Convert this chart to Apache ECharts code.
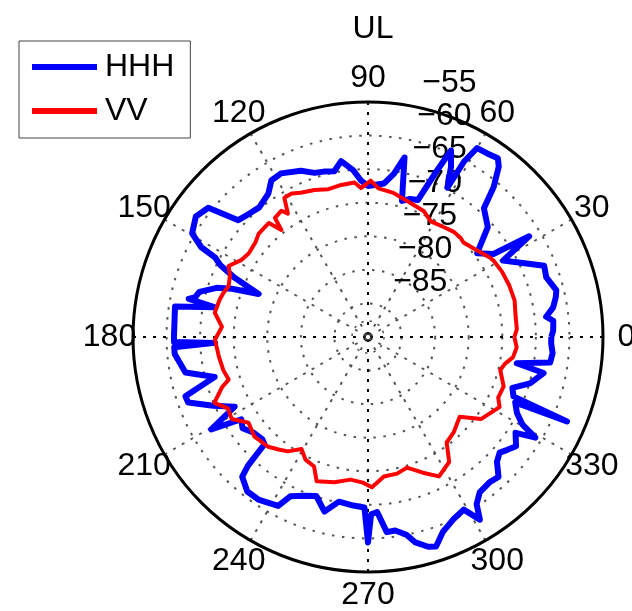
<!DOCTYPE html>
<html>
<head>
<meta charset="utf-8">
<script src="https://cdn.jsdelivr.net/npm/echarts@6/dist/echarts.min.js"></script>
<style>
  html, body { margin: 0; padding: 0; background: #fff; }
  #chart { width: 632px; height: 611px; }
</style>
</head>
<body>
<div id="chart"></div>
<script>
// Azimuth (degrees) and received level (dB) for the HHH trace
const hhhAngle = [0, 2, 5, 6.5, 9, 12, 14, 18.5, 22, 26.7, 29.5, 32, 33.5, 37.5, 42.5, 48, 50, 52.5, 54, 57,
  60, 61.3, 62, 64, 66, 67.5, 70, 73, 76, 78.5, 81, 84, 86, 90, 92.5, 95, 98.7, 101.5, 105, 108,
  112, 118, 121.7, 124.8, 130, 134, 138, 141, 145, 149.5, 151.7, 152.5, 154, 156, 158.5, 160.5, 162, 165, 167, 168,
  169, 171, 176, 180, 181.5, 182.2, 183, 185, 191, 194.6, 198, 200, 204, 207.6, 210.5, 213, 216, 220, 224, 226,
  227, 228, 232, 236, 242, 244, 248, 252, 256, 260, 265, 268.8, 270, 271, 273, 275.5, 278, 281, 283, 286,
  288, 291, 295, 299, 301.5, 303, 305.7, 310, 313, 316, 318.7, 321, 323.6, 327, 329, 330.5, 333, 336, 337, 337.8,
  340.6, 344, 348.4, 350, 352, 355, 358, 360];
const hhhDb = [-62.7, -62.4, -62.3, -63.3, -62.1, -61.4, -61.1, -62.0, -61.7, -65.2, -66.9, -61.7, -67.6, -69.5, -65.8, -64.2, -60.9, -58.0, -57.1, -57.4,
  -57.5, -60.2, -64.8, -61.8, -59.6, -63.2, -68.3, -68.5, -69.1, -62.7, -65.4, -67.0, -67.2, -67.5, -66.7, -65.1, -63.5, -64.8, -64.5, -64.3,
  -63.3, -62.4, -62.6, -64.0, -64.8, -64.5, -64.0, -59.4, -58.7, -59.6, -61.8, -64.3, -65.5, -68.2, -72.5, -68.5, -66.3, -64.0, -63.6, -62.7,
  -66.7, -60.9, -61.1, -61.1, -61.1, -67.2, -61.1, -61.1, -62.3, -66.4, -61.4, -61.5, -64.8, -67.6, -62.9, -67.5, -66.9, -67.8, -68.1, -67.8,
  -63.8, -62.0, -60.8, -60.8, -61.5, -63.6, -64.5, -65.1, -63.2, -65.1, -64.8, -64.6, -59.4, -63.6, -63.9, -60.8, -60.9, -60.0, -58.6, -57.5,
  -57.2, -58.9, -60.0, -60.6, -58.1, -60.3, -61.5, -61.8, -61.5, -63.3, -63.9, -63.3, -62.6, -63.8, -60.9, -63.6, -65.1, -66.0, -57.8, -66.6,
  -67.2, -64.9, -63.3, -67.5, -62.6, -62.4, -62.7, -62.7];

// Azimuth (degrees) and received level (dB) for the VV trace
const vvAngle = [0, 3, 8, 14, 20, 26, 31, 33, 38, 44.7, 47, 51, 55, 61.5, 66, 72, 77, 80, 86, 89,
  92.7, 95, 100, 105, 110, 115, 118, 121, 123, 124.4, 128, 129, 131, 136.6, 140, 145, 148.8, 153, 156, 160,
  163, 166, 171, 176, 181, 187.6, 193, 197, 199, 203.2, 207, 211, 215.6, 221.3, 227.7, 231.5, 235, 239.3, 243, 247.4,
  250.4, 257, 263, 268, 271.5, 276.5, 282, 286.6, 292, 297, 303, 306.7, 311.9, 319, 324, 330.5, 332, 335, 340, 346,
  349, 352, 356, 360];
const vvDb = [-68.2, -67.8, -67.8, -67.5, -67.6, -67.8, -68.1, -68.3, -69.2, -70.0, -69.8, -69.8, -70.1, -70.4, -69.5, -69.1, -68.6, -68.2, -67.8, -66.7,
  -67.8, -66.9, -67.0, -67.2, -66.7, -66.3, -65.8, -65.8, -68.1, -67.2, -67.5, -69.5, -67.5, -67.6, -68.1, -68.3, -67.9, -66.7, -67.5, -67.9,
  -67.5, -67.2, -66.9, -68.2, -67.2, -67.6, -67.9, -68.3, -67.0, -65.1, -66.6, -66.3, -68.1, -67.5, -67.9, -68.6, -69.2, -70.6, -69.5, -69.1,
  -67.2, -67.8, -68.6, -68.3, -67.6, -69.1, -69.2, -69.7, -68.2, -66.7, -67.8, -70.4, -70.9, -71.9, -69.2, -68.1, -67.8, -68.6, -68.5, -69.7,
  -69.2, -68.2, -67.8, -68.2];

// Ring labels, spoke labels and the radial range
const ringLabels = [-85, -80, -75, -70, -65, -60, -55];
const spokeLabels = [0, 30, 60, 90, 120, 150, 180, 210, 240, 270, 300, 330];
const radiusMin = -90;
const radiusMax = -55;
const ringStep = 5;
const spokeStep = 30;
const seriesNames = ['HHH', 'VV'];
const titleText = 'UL';

const CX = 368, CY = 337, R = 235;
const FONT_FAMILY = '"Liberation Sans", Arial, Helvetica, sans-serif';
const FONT_SIZE = 32;
const minusSign = v => String(v).replace('-', '\u2212');

// Second polar system only carries the ring labels; its radius scale matches
// the main one (px per dB) but is pushed outward so each label sits beyond its ring.
const pxPerDb = R / (radiusMax - radiusMin);
const labelShiftPx = 24;
const labelMin = radiusMin - labelShiftPx / pxPerDb;
const labelRadius = (radiusMax - labelMin) * pxPerDb;

// Spoke labels are centred on a circle of 1.1 R. The angle axis anchors each label
// with its own left/right/top/bottom rule, so each one gets a rich style whose
// padding moves the glyphs from that anchor to the centre point.
const spokeLabelR = 1.1 * R;
const anchorMargin = -30;
const anchorR = R + anchorMargin;
const measureCtx = document.createElement('canvas').getContext('2d');
measureCtx.font = FONT_SIZE + 'px ' + FONT_FAMILY;
const spokeRich = {};
spokeLabels.forEach(deg => {
  const rad = deg * Math.PI / 180;
  const ux = Math.cos(rad), uy = -Math.sin(rad);
  const ax = anchorR * ux, ay = anchorR * uy;
  const hAlign = Math.abs(ax) / R < 0.3 ? 'center' : (ax > 0 ? 'left' : 'right');
  const vAlign = Math.abs(ay) / R < 0.3 ? 'middle' : (ay > 0 ? 'top' : 'bottom');
  const w = measureCtx.measureText(String(deg)).width;
  const h = FONT_SIZE;
  const dx = spokeLabelR * ux - ax, dy = spokeLabelR * uy - ay;
  let pl = 0, pr = 0, pt = 0, pb = 0;
  if (hAlign === 'left') pl = dx - w / 2;
  else if (hAlign === 'right') pr = -dx - w / 2;
  else if (dx >= 0) pl = 2 * dx; else pr = -2 * dx;
  if (vAlign === 'top') pt = dy - h / 2;
  else if (vAlign === 'bottom') pb = -dy - h / 2;
  else if (dy >= 0) pt = 2 * dy; else pb = -2 * dy;
  spokeRich['a' + deg] = {
    fontFamily: FONT_FAMILY,
    fontSize: FONT_SIZE,
    color: '#000',
    padding: [Math.max(0, pt), Math.max(0, pr), Math.max(0, pb), Math.max(0, pl)]
  };
});

const chart = echarts.init(document.getElementById('chart'), null, { renderer: 'canvas' });

chart.setOption({
  backgroundColor: '#fff',
  animation: false,
  title: {
    text: titleText,
    left: CX,
    top: 8,
    textAlign: 'center',
    textStyle: { fontFamily: FONT_FAMILY, fontSize: FONT_SIZE, fontWeight: 'normal', color: '#000' }
  },
  legend: {
    data: seriesNames,
    orient: 'vertical',
    left: 19,
    top: 41,
    padding: [10, 16, 11, 13],
    itemGap: 12,
    itemWidth: 65,
    itemHeight: 6,
    icon: 'rect',
    borderColor: '#444',
    borderWidth: 1,
    backgroundColor: '#fff',
    textStyle: { fontFamily: FONT_FAMILY, fontSize: FONT_SIZE, color: '#000', padding: [0, 0, 0, 3] }
  },
  polar: [
    { center: [CX, CY], radius: R },
    { center: [CX, CY], radius: labelRadius }
  ],
  angleAxis: [
    {
      polarIndex: 0,
      type: 'value',
      min: 0,
      max: 360,
      interval: spokeStep,
      startAngle: 0,
      clockwise: false,
      axisLine: { show: true, lineStyle: { color: '#000', width: 3 } },
      axisTick: { show: false },
      axisLabel: {
        margin: anchorMargin,
        fontFamily: FONT_FAMILY,
        fontSize: FONT_SIZE,
        color: '#000',
        formatter: v => '{a' + v + '|' + v + '}',
        rich: spokeRich
      },
      splitLine: {
        show: true,
        lineStyle: { color: ['#000', '#555', '#555'], width: 2, type: [3, 7] }
      }
    },
    {
      polarIndex: 1,
      type: 'value',
      min: 0,
      max: 360,
      startAngle: 81.7,
      clockwise: false,
      show: false
    }
  ],
  radiusAxis: [
    {
      polarIndex: 0,
      type: 'value',
      min: radiusMin,
      max: radiusMax,
      interval: ringStep,
      axisLine: { show: false },
      axisTick: { show: false },
      axisLabel: { show: false },
      splitLine: {
        show: true,
        lineStyle: { color: '#555', width: 2, type: [2.5, 7.5] }
      }
    },
    {
      polarIndex: 1,
      type: 'value',
      min: labelMin,
      max: radiusMax,
      axisLine: { show: false },
      axisTick: { show: false },
      splitLine: { show: false },
      axisLabel: {
        show: true,
        customValues: ringLabels,
        formatter: minusSign,
        margin: -17,
        align: 'left',
        verticalAlign: 'middle',
        fontFamily: FONT_FAMILY,
        fontSize: FONT_SIZE,
        color: '#000'
      }
    }
  ],
  graphic: [
    {
      type: 'circle', z: 1, silent: true,
      shape: { cx: CX, cy: CY, r: 4 },
      style: { fill: 'none', stroke: '#222', lineWidth: 1.5 }
    },
    {
      type: 'circle', z: 1, silent: true,
      shape: { cx: CX, cy: CY, r: 16 },
      style: { fill: 'none', stroke: '#555', lineWidth: 1.5, lineDash: [2.5, 6] }
    }
  ],
  series: [
    {
      name: seriesNames[0],
      type: 'line',
      coordinateSystem: 'polar',
      polarIndex: 0,
      showSymbol: false,
      symbol: 'none',
      color: '#0000ff',
      lineStyle: { color: '#0000ff', width: 6, join: 'round' },
      data: hhhAngle.map((a, i) => [hhhDb[i], a]),
      z: 3
    },
    {
      name: seriesNames[1],
      type: 'line',
      coordinateSystem: 'polar',
      polarIndex: 0,
      showSymbol: false,
      symbol: 'none',
      color: '#ff0000',
      lineStyle: { color: '#ff0000', width: 4, join: 'round' },
      data: vvAngle.map((a, i) => [vvDb[i], a]),
      z: 4
    }
  ]
});
</script>
</body>
</html>
